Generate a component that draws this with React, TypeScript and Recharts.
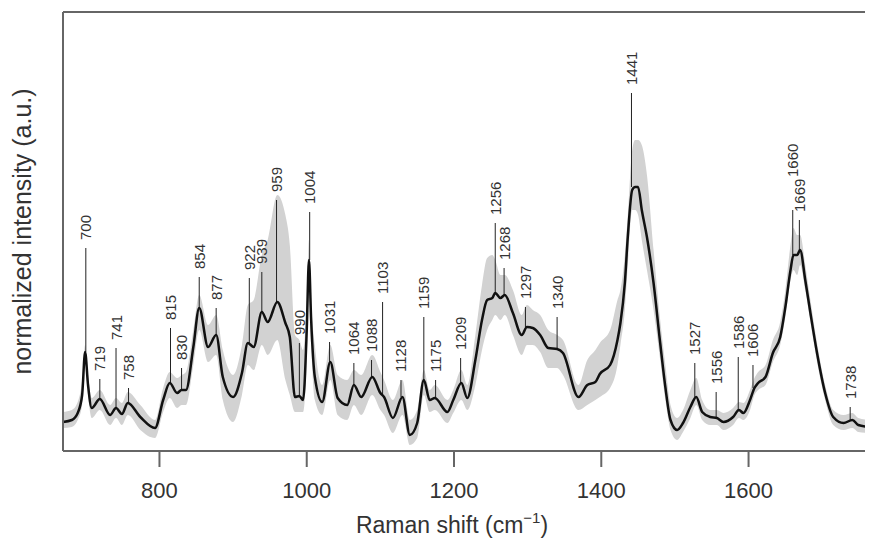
import React from "react";
import {
  ComposedChart,
  Area,
  Line,
  Scatter,
  XAxis,
  YAxis,
  ReferenceLine,
} from "recharts";

// Raman shift grid (cm-1) with mean intensity and the +/- band around it (a.u.)
const WAVENUMBER = [
  669, 681, 689, 695, 699, 703, 708, 719, 733, 741, 749, 757, 774, 794, 805, 814, 824, 830, 836, 846,
  854, 866, 877, 886, 900, 912, 920, 928, 939, 947, 960, 971, 977, 984, 990, 995, 1000, 1003, 1006, 1011,
  1021, 1032, 1042, 1055, 1064, 1074, 1089, 1100, 1105, 1117, 1130, 1140, 1150, 1159, 1167, 1174, 1191, 1199, 1210, 1218,
  1229, 1238, 1245, 1252, 1256, 1263, 1269, 1280, 1292, 1299, 1307, 1317, 1328, 1340, 1348, 1369, 1381, 1392, 1398, 1412,
  1422, 1426, 1432, 1436, 1442, 1446, 1450, 1455, 1462, 1471, 1480, 1487, 1494, 1503, 1511, 1521, 1529, 1537, 1548, 1557,
  1566, 1579, 1587, 1593, 1602, 1608, 1613, 1623, 1633, 1643, 1650, 1657, 1661, 1666, 1670, 1677, 1684, 1693, 1704, 1715,
  1729, 1741, 1749, 1765,
];

const MEAN = [
  29, 31, 38, 56, 99, 66, 43, 52, 36, 43, 37, 48, 34, 23, 51, 68, 58, 61, 61, 104,
  143, 104, 116, 74, 54, 78, 108, 104, 139, 129, 149, 128, 114, 54, 55, 51, 121, 191, 131, 74,
  49, 89, 53, 46, 66, 54, 74, 58, 54, 33, 54, 16, 28, 71, 51, 53, 39, 51, 68, 53,
  91, 131, 151, 153, 158, 153, 156, 138, 116, 124, 123, 116, 103, 102, 98, 54, 66, 69, 77, 86,
  111, 128, 168, 214, 261, 264, 264, 241, 214, 168, 108, 64, 31, 21, 28, 44, 54, 39, 34, 33,
  29, 34, 41, 38, 51, 63, 68, 74, 98, 114, 144, 181, 196, 196, 201, 171, 138, 98, 58, 34,
  28, 31, 26, 24,
];

const BAND_LOW = [
  23, 24, 31, 46, 91, 56, 33, 41, 26, 33, 26, 36, 21, 13, 39, 53, 43, 46, 46, 86,
  121, 89, 96, 51, 29, 56, 86, 81, 106, 96, 111, 71, 56, 39, 39, 39, 91, 166, 106, 51,
  36, 71, 36, 31, 46, 36, 56, 41, 36, 18, 36, 6, 13, 56, 39, 41, 28, 38, 51, 41,
  66, 101, 121, 131, 136, 131, 136, 116, 96, 106, 106, 99, 83, 83, 76, 41, 46, 51, 54, 63,
  86, 106, 141, 186, 241, 241, 236, 211, 181, 141, 91, 51, 21, 11, 19, 33, 46, 31, 26, 26,
  21, 26, 33, 31, 41, 56, 61, 66, 89, 106, 134, 171, 181, 176, 186, 161, 129, 89, 51, 26,
  21, 23, 19, 18,
];

const BAND_HIGH = [
  39, 41, 49, 71, 106, 76, 53, 61, 46, 53, 48, 59, 46, 31, 63, 79, 73, 76, 79, 121,
  156, 126, 136, 101, 76, 106, 146, 151, 196, 211, 256, 236, 206, 116, 111, 101, 151, 211, 151, 106,
  66, 106, 76, 71, 81, 76, 96, 79, 71, 51, 71, 31, 41, 81, 61, 66, 51, 61, 81, 66,
  116, 166, 193, 196, 191, 176, 176, 161, 136, 146, 141, 136, 121, 116, 111, 66, 91, 101, 108, 121,
  151, 161, 196, 236, 301, 311, 311, 306, 276, 201, 131, 86, 46, 33, 41, 61, 73, 51, 41, 41,
  38, 43, 49, 48, 61, 73, 79, 86, 111, 129, 161, 206, 223, 216, 216, 186, 151, 108, 66, 41,
  36, 38, 33, 31,
];

// assigned peaks: label, top of the marker line, curve value at the peak
const PEAK_LABELS = [
  "700", "719", "741", "758", "815", "830", "854", "877", "922", "939", "959", "990", "1004",
  "1031", "1064", "1088", "1103", "1128", "1159", "1175", "1209", "1256", "1268", "1297", "1340",
  "1441", "1527", "1556", "1586", "1606", "1660", "1669", "1738",
];
const PEAK_TOP = [
  203, 72, 103, 63, 123, 83, 174, 143, 173, 179, 251, 108, 239,
  109, 88, 91, 149, 71, 134, 71, 93, 228, 183, 144, 134,
  358, 88, 59, 94, 86, 241, 231, 44,
];
const PEAK_BASE = [
  99, 52, 43, 48, 68, 61, 143, 116, 108, 139, 149, 55, 191,
  89, 66, 74, 55, 54, 71, 53, 68, 158, 156, 124, 102,
  264, 54, 33, 41, 63, 196, 201, 31,
];

const X_TICKS = [800, 1000, 1200, 1400, 1600];

const FONT = "'Liberation Sans', Arial, Helvetica, sans-serif";
const LABEL_LIFT: Record<string, number> = { "1660": 25 };

const chartData = WAVENUMBER.map((w, i) => ({
  w,
  mean: MEAN[i],
  band: [BAND_LOW[i], BAND_HIGH[i]],
}));

const peakData = PEAK_LABELS.map((label, i) => ({
  w: Number(label),
  top: PEAK_TOP[i],
  base: PEAK_BASE[i],
  label,
}));

const PeakLabel = (props: any) => {
  const { cx, cy, payload } = props;
  const lift = 8 + (LABEL_LIFT[payload.label] ?? 0);
  return (
    <text
      transform={`translate(${cx + 5.5},${cy - lift}) rotate(-90)`}
      fontSize={15}
      fontFamily={FONT}
      fill="#333"
    >
      {payload.label}
    </text>
  );
};

const XTitle = (props: any) => {
  const { x, y, width } = props.viewBox;
  return (
    <text x={x + width / 2 - 16} y={y + 82} textAnchor="middle" fontSize={23} fontFamily={FONT} fill="#333">
      Raman shift (cm
      <tspan dy={-10} fontSize={15}>−1</tspan>
      <tspan dy={10}>)</tspan>
    </text>
  );
};

const YTitle = (props: any) => {
  const { y, height } = props.viewBox;
  return (
    <text
      transform={`translate(23,${y + height / 2}) rotate(-90)`}
      textAnchor="middle"
      fontSize={25}
      fontFamily={FONT}
      fill="#333"
    >
      normalized intensity (a.u.)
    </text>
  );
};

export default function App() {
  return (
    <ComposedChart
      width={865}
      height={532}
      data={chartData}
      margin={{ top: 4, right: 0, bottom: 0, left: 0 }}
    >
      <XAxis
        dataKey="w"
        type="number"
        domain={[669, 1769]}
        ticks={X_TICKS}
        allowDataOverflow
        height={89}
        tickSize={16}
        tickMargin={15}
        stroke="#666"
        strokeWidth={2}
        tick={{ fontSize: 22, fill: "#333", fontFamily: FONT }}
        label={{ content: XTitle }}
      />
      <YAxis
        type="number"
        domain={[0, 439]}
        allowDataOverflow
        width={55}
        tick={false}
        tickLine={false}
        stroke="#666"
        strokeWidth={2}
        label={{ content: YTitle }}
      />
      <ReferenceLine y={439} stroke="#666" strokeWidth={2} />
      <Area
        dataKey="band"
        type="monotone"
        stroke="none"
        fill="#d2d2d2"
        fillOpacity={1}
        isAnimationActive={false}
      />
      {peakData.map((p) => (
        <ReferenceLine
          key={p.label}
          segment={[
            { x: p.w, y: p.base },
            { x: p.w, y: p.top },
          ]}
          stroke="#222"
          strokeWidth={1}
        />
      ))}
      <Line
        dataKey="mean"
        type="monotone"
        stroke="#111"
        strokeWidth={2.5}
        dot={false}
        isAnimationActive={false}
      />
      <Scatter
        data={peakData}
        dataKey="top"
        shape={(p: any) => <PeakLabel {...p} />}
        isAnimationActive={false}
      />
    </ComposedChart>
  );
}
